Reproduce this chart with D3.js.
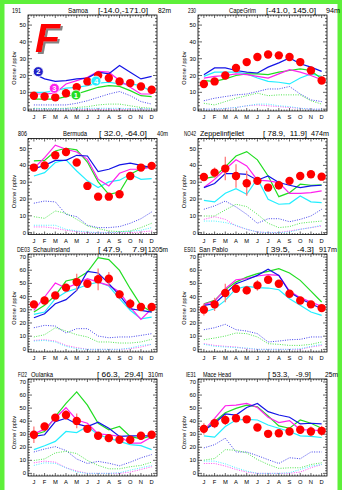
<!DOCTYPE html>
<html><head><meta charset="utf-8">
<script src="https://cdn.jsdelivr.net/npm/d3@7"></script>
<style>body{margin:0;background:#fff}svg{display:block}text{font-family:"Liberation Sans",Arial,sans-serif;white-space:pre}</style>
</head><body><svg id="c" width="342" height="490"></svg>
<script>
const months = ["J","F","M","A","M","J","J","A","S","O","N","D"];
const stationIds = ["191","230","806","NO42","DE03","ES01","FI22","IE31"];
const stationNames = ["Samoa","CapeGrim","Bermuda","Zeppelinfjellet","Schauinsland","San Pablo","Oulanka","Mace Head"];
const stationCoords = ["[-14.0,-171.0]","[-41.0, 145.0]","[ 32.0, -64.0]","[ 78.9,  11.9]","[ 47.9,    7.9]","[ 39.5,   -4.3]","[ 66.3,  29.4]","[ 53.3,   -9.9]"];
const stationAlts = ["82m","94m","40m","474m","1205m","917m","310m","25m"];
const yTicksLow = [0,10,20,30,40,50];
const yTicksHigh = [0,10,20,30,40,50,60,70];

const obs = [
 [8,7.5,7,9.5,13,16.5,20,18.5,16.5,15.5,13.5,11.5],
 [15,16.5,20,24.5,28,31,32.5,32,31,28,23,17],
 [38.7,40,46,48,41.7,27.8,21.4,21.4,22.8,33.7,38.7,39.7],
 [33.1,35.7,38.1,33.7,29.4,30.8,26.8,28.2,30.8,33.7,34.7,33.3],
 [34.1,37.1,40.9,46.8,51,49.8,53.1,53.6,41.7,34.6,32.1,32.1],
 [30.1,34.1,42.7,46,44.7,48.5,52.8,49.8,42.2,37.1,34.1,31.3],
 [29.6,35.9,42.7,44.7,40.2,34.1,28.8,27,25.8,25.8,28.8,29.6],
 [34.1,38.4,40.9,42.2,41.4,35.1,30.3,30.8,32.1,33.4,32.1,32.6]];
const obsErr = [
 [0.8,0.8,0.8,0.8,0.8,0.8,0.8,0.8,0.8,0.8,0.8,0.8],
 [1,1,1,1,1,1,1,1,1,1,1,1],
 [1,1,1,1,1,1,1,1,1,1,1,1],
 [1.5,3,7,7,7.4,2,1.5,2.7,1,1,1,1],
 [1.5,1.5,2,2,6.3,2.5,8.2,5,3.2,3.8,1.5,1.5],
 [4.4,5,7,2,3.2,4,2,2,2,2.5,2.5,2],
 [6.3,2.5,2,3.8,5.7,2,2.5,2.5,1.5,1.5,2,2],
 [4.4,3.8,3.8,1.5,1.5,1.5,1.5,1.5,1.5,2,3.8,3.8]];
const modelBlue = [
 [21,18,16.5,17,18,18.5,22,21,26,22,18,19.5],
 [20.5,24.5,24.5,23,22,21.5,25,27.5,30.5,27,25,22.5],
 [38,40,43,43,46,45.6,36.3,37.7,40.3,41.3,40,38.7],
 [26.8,29.2,35.1,35.1,34.7,31.2,33.7,29.8,28.2,26.8,27.8,28.2],
 [24,27,34.6,37.7,44.7,59.1,57.9,49.8,40.9,30.8,29.6,28.3],
 [33.4,34.6,42.2,49.8,52.8,56.1,60.7,56.1,43.5,38.4,34.6,30.8],
 [28.3,29.6,39.7,42.2,37.9,35.9,39.2,34.6,28.3,28.8,28.8,28.8],
 [32.9,38.4,45.5,44.7,50.5,53.6,47.3,44.7,43,37.9,38.4,37.9]];
const modelMagenta = [
 [9,9,9.5,15,17,19,22.5,22,17,13,9,9],
 [18.5,19.5,20,21,20.5,19.5,18.5,21,23.5,22,20,17.5],
 [38.3,44.6,52,49.6,48,43.6,31.7,27.8,35.3,37.7,37.7,39],
 [26.8,31.7,37.7,43.3,39.7,31.2,30.8,29.8,23.4,23.4,23.8,24.8],
 [29.6,39.7,50.3,46.5,49.8,53.6,51,48.5,43.5,32.1,22.7,30.8],
 [34.1,36.4,46,52.8,53.6,55.6,56.6,56.1,44.2,39.2,35.9,32.6],
 [30.3,33.9,42.2,50.3,40.9,38.4,30.3,29.6,28.3,23.2,23.2,27.8],
 [32.9,42.2,51.8,52.3,53.6,50.5,43,38.9,40.4,33.4,33.4,32.6]];
const modelCyan = [
 [10,10,11,12.5,13,14,15.5,16,15,15,14,10.5],
 [19.5,22,22,22,21,18.5,16.5,16,15,18.5,21,19.5],
 [33.7,35.7,41.7,43.3,36.7,30.8,26.8,30.2,31.2,34.7,31.7,32.1],
 [19.2,18.3,23.4,26.2,22.8,32.1,19.8,16.9,17.3,21.8,18.3,17.9],
 [26.5,28.3,38.4,43.5,46,49,51,48,38.4,29.6,23.2,24.5],
 [28.3,30.8,37.1,46,47.8,46.8,46.5,45.2,38.4,33.4,28.3,25.8],
 [18.2,21.2,24.5,32.1,31.3,35.9,29.6,27,24.5,22,21.2,18.2],
 [28.8,27.8,35.9,40.9,41.4,40.9,37.1,34.6,32.1,28.8,28.3,27.5]];
const modelGreen = [
 [6,6,6,7.5,9,11,13,14,13.5,11,8,7.5],
 [17,16.5,18,20,21,21,20.5,22,23,24,23,18],
 [42.7,43,48.6,50.2,49.2,42,30.2,22.8,24.2,34.7,38,39.7],
 [32.1,33.3,39.1,45.6,48.2,43.3,33.7,21.4,23.8,28.8,28.2,28.4],
 [28.3,33.4,40.9,51.8,53.6,58.6,69.5,68,59.9,46,33.4,28.3],
 [34.6,37.1,45.2,51,54.8,57.4,59.1,61.2,57.9,52.3,44.2,35.9],
 [29.6,32.1,43.5,53.6,62.4,52.3,38.4,33.4,35.9,28.3,26.5,28.8],
 [33.4,39.7,46.5,49.8,52.3,51,44,36.4,34.6,40.9,38.4,34.6]];
const dotBlue = [
 [2.5,2.5,2.5,2.5,3.5,5,7,9,10.5,8,4.5,3],
 [5,6.5,7.5,8.5,9,10.5,12,12,13.5,9,5.5,4.5],
 [17.5,18.8,18.3,10.9,9.5,4.4,3,3,3.6,5.6,8.3,12.3],
 [13.9,15.9,18.8,15.3,10.9,5.6,8.3,8.3,6.5,7.9,9.9,13.9],
 [16.4,18.2,17.7,12.4,15.7,15.7,10.1,8.8,9.4,9.4,10.6,11.9],
 [14.9,16.4,19,14.9,13.9,11.9,5.6,6.3,7.3,7.6,9.4,9.4],
 [16.4,18.7,20.5,17.5,11,7.6,9.2,7.8,5.8,8.6,11.9,14.4],
 [19.5,22,27,16.4,16.4,13.6,10.5,7.6,12,11.2,16.4,16.4]];
const dotGreen = [
 [0.5,0.3,0.3,0.5,1,1.5,2.5,3,3,2,1,0.5],
 [3.5,2.5,4.5,6.5,8,9.5,8,8.5,8.5,8.5,5,3],
 [9.5,8.5,12.9,11.5,7.9,4,2.4,1,0.6,1,3,5.6],
 [9.9,9.9,13.5,16.9,15.5,10.9,5.6,3,3.6,5.6,6.3,6.9],
 [9.4,11.1,16.4,13.9,11.1,9.4,5.6,5.6,4.8,4.8,5.6,7.6],
 [7.3,8.6,10.1,12.4,11.9,9.4,4.3,3.8,3,3,3.8,5.6],
 [9.9,11.1,15.7,16.9,15.2,9.9,6.1,3.5,3.5,5.1,6.1,8.6],
 [10.1,11.4,18.2,17.7,15.7,10.6,6.8,3.8,4.3,4.3,6.8,8.1]];
const dotMagenta = [
 [0,0,0,0,0,0,0,0,0,0,0,0],
 [0,0,0.3,1,2,2.5,2,1.5,1,0.5,0,0],
 [3.4,3.4,2.6,1.4,0.6,0,0,0,0,0,0.4,1],
 [7.9,9.5,7.9,4,2,0.4,0,0,1,2,3,4],
 [6.8,7.3,6.3,3,1.3,0,0,0,0,0.5,1.8,3.8],
 [4.3,3,2.3,1.8,0.5,0,0,0,0,0,1.8,3],
 [8.1,9.4,8.6,4.3,1.8,0,0,0,0,1,3,5.1],
 [7.6,7.6,5.6,3,1,0,0,0,0,1,4.3,6.8]];
const dotCyan = [
 [0.2,0.2,0.2,0.2,0.3,0.5,0.5,0.5,0.5,0.3,0.2,0.2],
 [0,0,0.5,1,2,3,3,2,1.5,0.5,0,0],
 [4.4,4.4,4.4,2,1,0.4,0,0,0.4,0.8,1.4,3],
 [6.9,6.9,6,4.4,2,0.4,0,0,0.4,2,3,4.4],
 [6.3,6.8,5.6,2.3,0.5,0,0,0,0,1,3,3.8],
 [3.8,2.3,1.8,1.3,1,0,0,0,0,0.5,2.3,3.8],
 [6.1,8.1,7.6,4.3,1,0,0,0,0.5,2.5,4.3,6.1],
 [9.4,9.4,7.3,4.3,1.8,0,0,0,0.5,3,5.6,6.8]];
// numbered model labels (panel 1): month position, value
const modelLabels = [
 {n:"1", m:4.93, v:8.4},
 {n:"2", m:1.41, v:22.3},
 {n:"3", m:2.91, v:12.4},
 {n:"4", m:6.8, v:16.7}];

// ---------- layout / style ----------
const C = {blue:"#1414e6", magenta:"#ff22ee", cyan:"#22eeff", green:"#22dd22", red:"#ff0000", err:"#ff7a7a"};
const labelColors = {"1":C.green,"2":"#2020c8","3":C.magenta,"4":C.cyan};
const colX = [28,198], colW = 129;
const rowTop = [15,138.5,254,379], rowBot = [111,234.5,352,476];
const rowDomain = [[-1.1,56],[-1.1,56],[-2,72.3],[-2,72.3]];
// [id x, id w, name x, name w, coord x, coord w, alt x, alt w]
const titlePos = [
 [12,9,68,20,98,50,158,13],[188,8,229,27,266,50,326,14],
 [18,9,63,24,99,48,157,11],[184,12,200,44,263,44,311,18],
 [17,13,33,37,98,49,148,20],[184,12,199,29,266,48,319,18],
 [18,9,31,22,97,46,148,15],[186,10,203,28,268,43,325,13]];
const TF = 6.6;

const svg = d3.select("#c");
const defs = svg.append("defs");
const flt = defs.append("filter").attr("id","shadow").attr("x","-20%").attr("y","-20%").attr("width","150%").attr("height","150%");
flt.append("feDropShadow").attr("dx",2).attr("dy",2).attr("stdDeviation",0.6).attr("flood-color","#777").attr("flood-opacity",0.9);

const green = "#5ef03a";
svg.append("rect").attr("x",0).attr("y",0).attr("width",4.5).attr("height",490).attr("fill",green);
svg.append("rect").attr("x",0).attr("y",0).attr("width",342).attr("height",4).attr("fill",green);
svg.append("rect").attr("x",337.5).attr("y",0).attr("width",4.5).attr("height",490).attr("fill",green);

for (let p = 0; p < 8; p++) {
  const col = p % 2, row = Math.floor(p / 2);
  const x0 = colX[col], x1 = x0 + colW, y0 = rowTop[row], y1 = rowBot[row];
  const x = d3.scaleLinear().domain([0.45, 12.5]).range([x0, x1]);
  const y = d3.scaleLinear().domain(rowDomain[row]).range([y1, y0]);
  const g = svg.append("g");
  const ticks = row < 2 ? yTicksLow : yTicksHigh;
  const ymax = rowDomain[row][1];

  g.append("rect").attr("x",x0).attr("y",y0).attr("width",colW).attr("height",y1-y0)
    .attr("fill","none").attr("stroke","#000").attr("stroke-width",0.8);
  d3.range(0, ymax, 2).forEach(v => {
    const L = v % 10 === 0 ? 4 : 2;
    g.append("line").attr("x1",x0).attr("x2",x0+L).attr("y1",y(v)).attr("y2",y(v)).attr("stroke","#000").attr("stroke-width",0.6);
    g.append("line").attr("x1",x1).attr("x2",x1-L).attr("y1",y(v)).attr("y2",y(v)).attr("stroke","#000").attr("stroke-width",0.6);
  });
  d3.range(0.5, 12.5, 0.25).forEach(m => {
    const L = Math.abs(m - Math.round(m)) < 0.01 ? 3 : 1.5;
    g.append("line").attr("x1",x(m)).attr("x2",x(m)).attr("y1",y1).attr("y2",y1-L).attr("stroke","#000").attr("stroke-width",0.6);
    g.append("line").attr("x1",x(m)).attr("x2",x(m)).attr("y1",y0).attr("y2",y0+L).attr("stroke","#000").attr("stroke-width",0.6);
  });
  ticks.forEach(v => g.append("text").attr("x",x0-2).attr("y",y(v)+2).attr("text-anchor","end")
    .attr("font-size",5.8).attr("fill","#000").text(v));
  months.forEach((m,i) => g.append("text").attr("x",x(i+1)).attr("y",y1+8).attr("text-anchor","middle")
    .attr("font-size",5.8).attr("fill","#000").text(m));
  const yc = (y0+y1)/2 + 5, xt = x0 - 12;
  g.append("text").attr("transform",`translate(${xt},${yc}) rotate(-90)`).attr("text-anchor","middle")
    .attr("font-size",5.6).attr("fill","#000").text("Ozone / ppbv");

  const tp = titlePos[p], ty = y0 - 2.3;
  const tt = (tx, tw, s, fs) => g.append("text").attr("x",tx).attr("y",ty).attr("font-size",fs)
    .attr("textLength",tw).attr("lengthAdjust","spacingAndGlyphs").text(s);
  tt(tp[0], tp[1], stationIds[p], TF);
  tt(tp[2], tp[3], stationNames[p], TF);
  tt(tp[4], tp[5], stationCoords[p], TF + 0.6);
  tt(tp[6], tp[7], stationAlts[p], TF);

  const line = d3.line().x((d,i) => x(i+1)).y(d => y(d));
  const clip = "clip" + p;
  defs.append("clipPath").attr("id",clip).append("rect").attr("x",x0).attr("y",y0).attr("width",colW).attr("height",y1-y0);
  const pg = g.append("g").attr("clip-path",`url(#${clip})`);
  [[dotBlue,C.blue],[dotGreen,C.green],[dotMagenta,C.magenta],[dotCyan,C.cyan]].forEach(([arr,c]) => {
    pg.append("path").attr("d",line(arr[p])).attr("fill","none").attr("stroke",c)
      .attr("stroke-width",1).attr("stroke-dasharray","1,1.4").attr("opacity",0.8);
  });
  [[modelCyan,C.cyan],[modelGreen,C.green],[modelMagenta,C.magenta],[modelBlue,C.blue]].forEach(([arr,c]) => {
    pg.append("path").attr("d",line(arr[p])).attr("fill","none").attr("stroke",c).attr("stroke-width",1.2);
  });
  obs[p].forEach((v,i) => {
    const e = obsErr[p][i];
    pg.append("line").attr("x1",x(i+1)).attr("x2",x(i+1)).attr("y1",y(v-e)).attr("y2",y(v+e))
      .attr("stroke",C.err).attr("stroke-width",1.3);
  });
  obs[p].forEach((v,i) => {
    pg.append("circle").attr("cx",x(i+1)).attr("cy",y(v)).attr("r",4.2).attr("fill",C.red);
  });

  if (p === 0) {
    modelLabels.forEach(l => {
      pg.append("circle").attr("cx",x(l.m)).attr("cy",y(l.v)).attr("r",5).attr("fill",labelColors[l.n])
        .attr("stroke","#fff").attr("stroke-width",0.8);
      pg.append("text").attr("x",x(l.m)).attr("y",y(l.v)+2.6).attr("text-anchor","middle")
        .attr("font-size",7.5).attr("font-weight","bold").attr("fill","#fff").text(l.n);
    });
    g.append("text").attr("x",35).attr("y",52).attr("font-size",41).attr("font-weight","bold")
      .attr("font-style","italic").attr("fill","#ff0000").attr("filter","url(#shadow)").text("F");
  }
}
</script></body></html>
